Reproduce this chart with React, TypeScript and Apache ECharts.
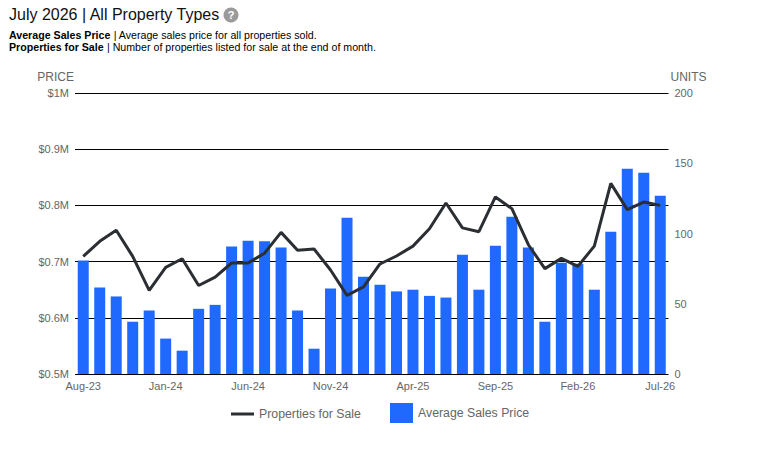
import React, { useEffect, useRef } from "react";
import * as echarts from "echarts";

const months = [
  "Aug-23","Sep-23","Oct-23","Nov-23","Dec-23","Jan-24","Feb-24","Mar-24","Apr-24","May-24","Jun-24","Jul-24",
  "Aug-24","Sep-24","Oct-24","Nov-24","Dec-24","Jan-25","Feb-25","Mar-25","Apr-25","May-25","Jun-25","Jul-25",
  "Aug-25","Sep-25","Oct-25","Nov-25","Dec-25","Jan-26","Feb-26","Mar-26","Apr-26","May-26","Jun-26","Jul-26",
];
const averageSalesPrice = [
  702000,654000,638000,593000,613000,563000,541500,616000,623000,727000,737000,736000,
  725000,613000,545000,652000,778000,673000,659000,647000,650000,639000,636000,712000,
  650000,728000,780000,725000,593000,698000,696000,650000,753000,865000,858000,817000,
];
const propertiesForSale = [
  83.7,94.4,102.3,83.7,59.5,75.9,82,63,69,79,79,86,
  100.8,88,89,74,56,62,78.3,84,91,103.4,121.7,104,
  101.3,126,117.7,92,75,82.3,76.6,91,135.7,117,122.4,120,
];

const FONT = "Liberation Sans";
const GREY = "#666666";
const BLUE = "#1f69ff";
const DARK = "#2b2f33";

function priceLabel(v: number) {
  return "$" + v / 1000000 + "M";
}

export default function App() {
  const ref = useRef<HTMLDivElement>(null);
  useEffect(() => {
    const chart = echarts.init(ref.current!, null, { renderer: "svg" });
    chart.setOption({
      animation: false,
      backgroundColor: "#ffffff",
      textStyle: { fontFamily: FONT },
      grid: { left: 75, top: 93, width: 593.5, height: 281, containLabel: false },
      legend: [
        {
          data: [{ name: "Properties for Sale", icon: "rect" }],
          left: 226, top: 403, itemWidth: 23, itemHeight: 3, itemGap: 6,
          textStyle: { color: GREY, fontSize: 12.3, fontFamily: FONT },
        },
        {
          data: [{ name: "Average Sales Price", icon: "rect" }],
          left: 385, top: 398, itemWidth: 23, itemHeight: 20, itemGap: 4,
          textStyle: { color: GREY, fontSize: 12.3, fontFamily: FONT },
        },
      ],
      xAxis: {
        type: "category",
        data: months,
        axisLine: { show: false },
        axisTick: { show: false },
        axisLabel: { interval: 4, color: GREY, fontSize: 11, fontFamily: FONT, margin: 6, hideOverlap: false },
      },
      yAxis: [
        {
          type: "value", min: 500000, max: 1000000, interval: 100000,
          name: "PRICE", nameLocation: "end", nameGap: 16,
          nameTextStyle: { color: GREY, fontSize: 12, fontFamily: FONT, align: "right", verticalAlign: "middle", padding: [0, 1, 0, 0] },
          axisLine: { show: false }, axisTick: { show: false },
          axisLabel: { color: GREY, fontSize: 11, fontFamily: FONT, formatter: priceLabel, margin: 6 },
          splitLine: { show: true, lineStyle: { color: "#000000", width: 1 } },
        },
        {
          type: "value", min: 0, max: 200, interval: 50, position: "right",
          name: "UNITS", nameLocation: "end", nameGap: 16,
          nameTextStyle: { color: GREY, fontSize: 12, fontFamily: FONT, align: "left", verticalAlign: "middle", padding: [0, 0, 0, 2] },
          axisLine: { show: false }, axisTick: { show: false },
          axisLabel: { color: GREY, fontSize: 11, fontFamily: FONT, margin: 6 },
          splitLine: { show: false },
        },
      ],
      series: [
        {
          name: "Average Sales Price", type: "bar", yAxisIndex: 0, data: averageSalesPrice,
          barWidth: 11, itemStyle: { color: BLUE }, z: 2,
        },
        {
          name: "Properties for Sale", type: "line", yAxisIndex: 1, data: propertiesForSale,
          showSymbol: false, symbol: "none", lineStyle: { color: DARK, width: 3 }, itemStyle: { color: DARK }, z: 3,
        },
      ],
      graphic: [
        { type: "text", x: 9, y: 6, style: { text: "July 2026 | All Property Types", font: `16px "${FONT}"`, fill: "#111111" } },
        { type: "circle", shape: { cx: 231, cy: 15, r: 7.5 }, style: { fill: "#9a9a9a" } },
        { type: "text", x: 231, y: 15, style: { text: "?", font: `bold 11px "${FONT}"`, fill: "#ffffff", align: "center", verticalAlign: "middle" } },
        {
          type: "text", x: 9, y: 29,
          style: {
            text: "{b|Average Sales Price} {n|| Average sales price for all properties sold.}",
            rich: {
              b: { font: `bold 10.65px "${FONT}"`, fill: "#000000" },
              n: { font: `10.65px "${FONT}"`, fill: "#000000" },
            },
          },
        },
        {
          type: "text", x: 9, y: 41,
          style: {
            text: "{b|Properties for Sale} {n|| Number of properties listed for sale at the end of month.}",
            rich: {
              b: { font: `bold 10.65px "${FONT}"`, fill: "#000000" },
              n: { font: `10.65px "${FONT}"`, fill: "#000000" },
            },
          },
        },
      ],
    });
    return () => chart.dispose();
  }, []);
  return <div ref={ref} style={{ position: "absolute", left: 0, top: 0, width: 760, height: 452 }} />;
}
